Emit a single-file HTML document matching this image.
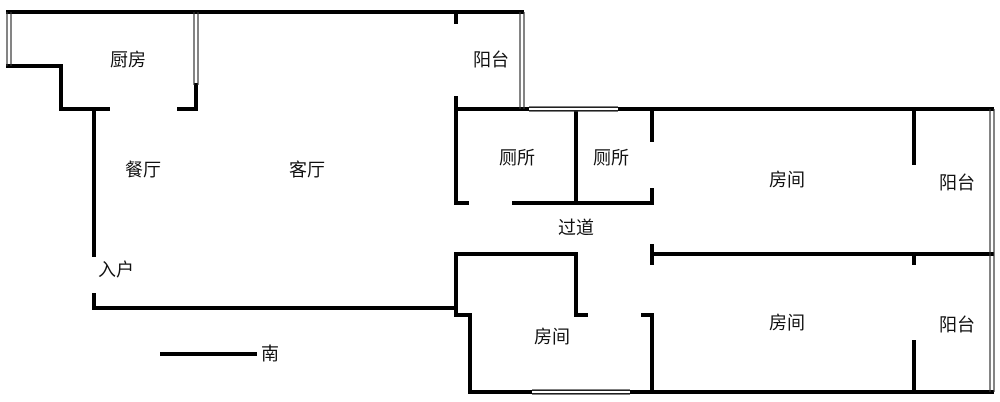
<!DOCTYPE html>
<html><head><meta charset="utf-8"><style>
html,body{margin:0;padding:0;background:#fff;}
svg{display:block}
text{font-family:"Liberation Sans","Noto Sans CJK SC",sans-serif;font-size:18px;fill:#111;text-anchor:middle;dominant-baseline:central}
</style></head><body>
<svg width="1000" height="402" viewBox="0 0 1000 402" xmlns="http://www.w3.org/2000/svg">
<g stroke="#000" stroke-width="4" fill="none" stroke-linecap="square">
<path d="M8 12 H522"/>
<path d="M8 66 H61 V109 H108"/>
<path d="M179 109 H196 V85"/>
<path d="M94 109 V255"/>
<path d="M94 295 V308 H456 V315 H470 V392 H992"/>
<path d="M456 12 V22"/>
<path d="M456 98 V203 H467"/>
<path d="M456 109 H992"/>
<path d="M514 203 H652 V190"/>
<path d="M652 109 V140"/>
<path d="M576 109 V203"/>
<path d="M456 308 V254 H576 V315 H586"/>
<path d="M652 246 V263"/>
<path d="M652 254 H992"/>
<path d="M643 315 H652 V392"/>
<path d="M914 109 V163"/>
<path d="M914 254 V263"/>
<path d="M914 342 V392"/>
<path d="M162 354 H255"/>
</g>
<g stroke="#333" stroke-width="1.2" fill="none">
<path d="M7 12 V66 M11 12 V66"/>
<path d="M194 12 V85 M198 12 V85"/>
<path d="M520 12 V109 M524 12 V109"/>
<path d="M529 107 H618 M529 111 H618"/>
<path d="M990 109 V392 M994 109 V392"/>
<path d="M532 390 H630 M532 394 H630"/>
</g>
<g fill="#fff"><rect x="529" y="108" width="89" height="2"/><rect x="532" y="391" width="98" height="2"/></g>
<text x="128" y="60">厨房</text>
<text x="491" y="60">阳台</text>
<text x="143" y="170">餐厅</text>
<text x="307" y="170">客厅</text>
<text x="517" y="158">厕所</text>
<text x="611" y="158">厕所</text>
<text x="787" y="180">房间</text>
<text x="957" y="183">阳台</text>
<text x="576" y="228">过道</text>
<text x="116" y="270">入户</text>
<text x="552" y="337">房间</text>
<text x="787" y="323">房间</text>
<text x="957" y="325">阳台</text>
<text x="270" y="354">南</text>
</svg>
</body></html>
